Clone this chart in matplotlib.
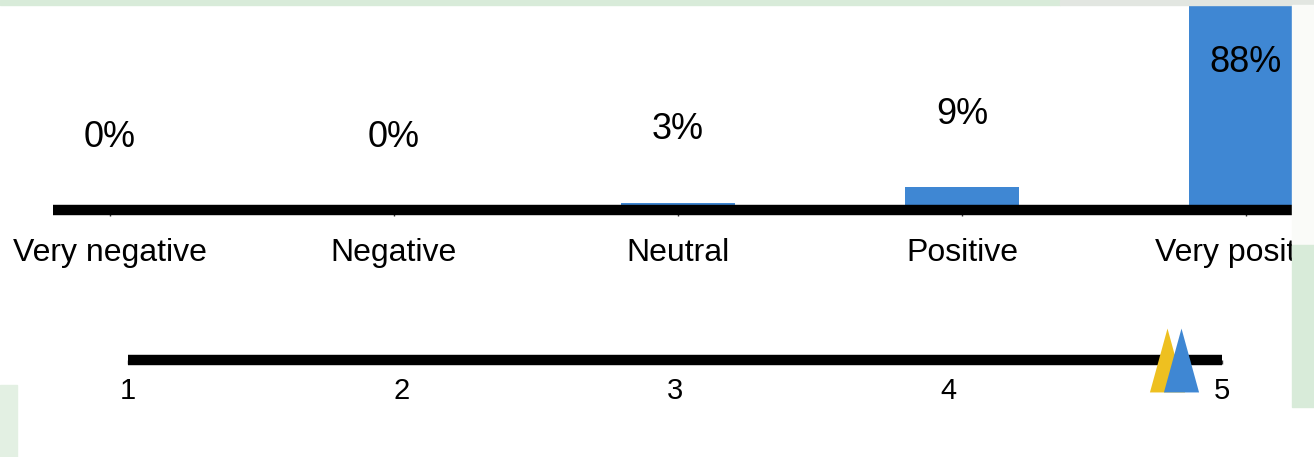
import matplotlib as mpl; mpl.use("Agg")
import matplotlib.pyplot as plt
from matplotlib.patches import Rectangle
from matplotlib.path import Path

# data
categories = ["Very negative", "Negative", "Neutral", "Positive", "Very positive"]
shares = [0, 0, 3, 9, 88]          # percent
scale_ticks = [1, 2, 3, 4, 5]
mean_yellow = 4.80
mean_blue = 4.85

BLUE = "#3F87D3"
YELLOW = "#EEC020"
GREEN = "#D8EBD9"

mpl.rcParams["font.family"] = ["Liberation Sans", "DejaVu Sans"]

W, H = 1314, 457
fig = plt.figure(figsize=(W / 100, H / 100), dpi=100)
fig.patch.set_facecolor("white")

def px_axes(x0, y0, x1, y1):
    # pixel box (top-left origin) -> figure fraction axes
    return fig.add_axes([x0 / W, 1 - y1 / H, (x1 - x0) / W, (y1 - y0) / H])

# ---- top: distribution bars
ax = px_axes(53, 0, 1292, 210.5)
x = range(len(categories))
ax.bar(x, shares, width=0.4, color=BLUE, zorder=1)
ax.set_xlim(-0.2, 4.162)
ax.set_ylim(0, 81)
for i, v in enumerate(shares):
    ax.text(i, min(v + 28, 57), f"{v}%", ha="center", va="center", fontsize=26, color="black")
ax.set_xticks(list(x))
ax.set_xticklabels(categories, fontsize=23)
ax.tick_params(axis="x", length=4, width=1, color="#333333", pad=16)
ax.set_yticks([])
for s in ["top", "right", "left"]:
    ax.spines[s].set_visible(False)
ax.spines["bottom"].set_linewidth(7.5)
ax.spines["bottom"].set_capstyle("butt")
ax.set_facecolor("none")

# ---- bottom: 1-5 scale with means
ax2 = px_axes(128, 330, 1222, 360)
ax2.set_xlim(1, 5)
ax2.set_ylim(0, 1)
ax2.set_xticks(scale_ticks)
ax2.set_xticklabels([str(t) for t in scale_ticks], fontsize=21)
ax2.tick_params(axis="x", length=3, width=1, color="#333333", pad=9)
ax2.set_yticks([])
for s in ["top", "right", "left"]:
    ax2.spines[s].set_visible(False)
ax2.spines["bottom"].set_linewidth(7.5)
ax2.spines["bottom"].set_capstyle("butt")
ax2.set_facecolor("none")

tri = Path([(0, 1), (-0.55, -1), (0.55, -1), (0, 1)],
           [Path.MOVETO, Path.LINETO, Path.LINETO, Path.CLOSEPOLY])
ax2.plot([mean_yellow], [0], marker=tri, markersize=46, color=YELLOW, mew=0, ls="", clip_on=False, zorder=4)
ax2.plot([mean_blue], [0], marker=tri, markersize=46, color=BLUE, mew=0, ls="", clip_on=False, zorder=5)

# slide background fragments
fig.patches.append(Rectangle((0, 1 - 5 / H), 1060 / W, 5 / H, transform=fig.transFigure,
                             color=GREEN, zorder=10))
fig.patches.append(Rectangle((1060 / W, 1 - 5 / H), 1 - 1060 / W, 5 / H, transform=fig.transFigure,
                             color="#E2E6E1", zorder=10))
fig.patches.append(Rectangle((1292 / W, 1 - 245 / H), 1 - 1292 / W, (245 - 5) / H,
                             transform=fig.transFigure, color="#FAFBF8", zorder=10))
fig.patches.append(Rectangle((1292 / W, 1 - 407 / H), 1 - 1292 / W, (407 - 245) / H,
                             transform=fig.transFigure, color=GREEN, zorder=10))
fig.patches.append(Rectangle((0, 0), 17 / W, (457 - 385) / H, transform=fig.transFigure,
                             color="#E3F0E3", zorder=10))

fig.savefig("out.png", dpi=100)
